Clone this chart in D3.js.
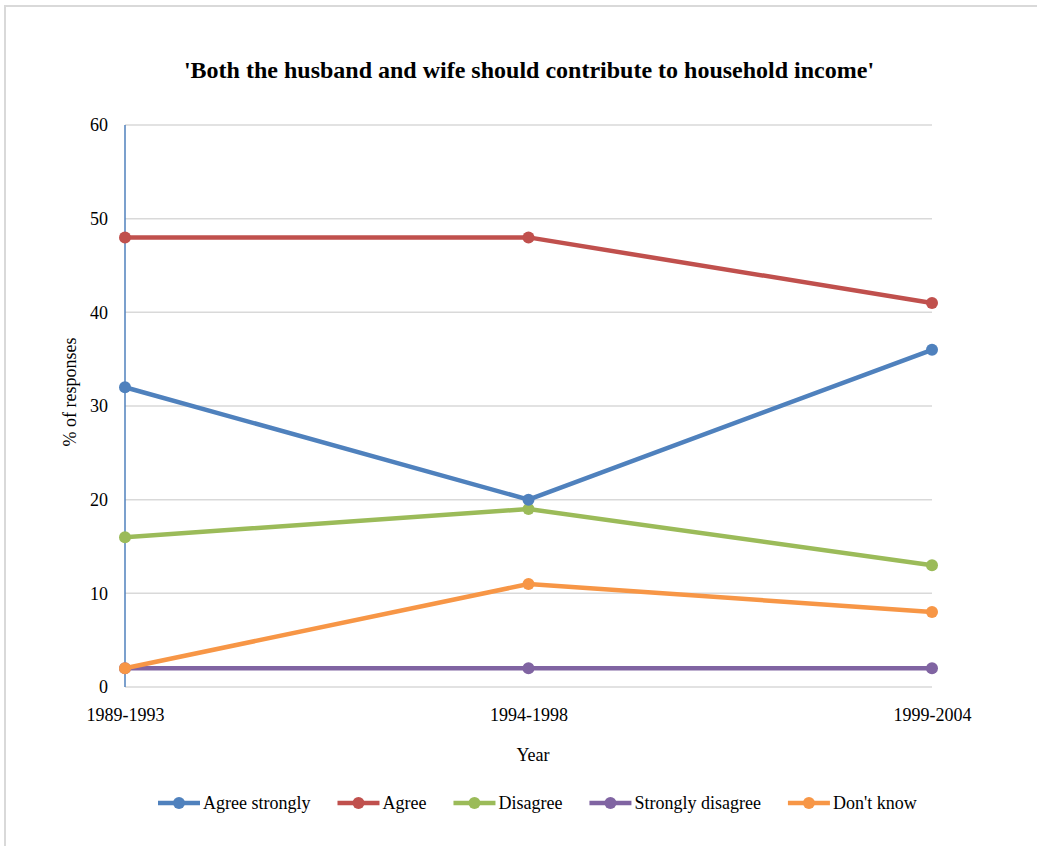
<!DOCTYPE html>
<html>
<head>
<meta charset="utf-8">
<script src="https://cdn.jsdelivr.net/npm/d3@7"></script>
<style>
  body { margin: 0; background: #fff; }
  svg { display: block; }
  svg text { font-family: "Liberation Serif", "DejaVu Serif", serif; }
</style>
</head>
<body>
<div id="chart"></div>
<script>
var periods = ["1989-1993", "1994-1998", "1999-2004"];
var seriesNames = ["Agree strongly", "Agree", "Disagree", "Strongly disagree", "Don't know"];
var agreeStrongly = [32, 20, 36];
var agree = [48, 48, 41];
var disagree = [16, 19, 13];
var stronglyDisagree = [2, 2, 2];
var dontKnow = [2, 11, 8];
var yTicks = [0, 10, 20, 30, 40, 50, 60];
var colors = ["#4f81bd", "#c0504d", "#9bbb59", "#8064a2", "#f79646"];

var seriesValues = [agreeStrongly, agree, disagree, stronglyDisagree, dontKnow];

function drawChart() {
    var width = 1037, height = 846;
    var left = 125, right = 932, top = 125, bottom = 687;

    var svg = d3.select("#chart").append("svg").attr("width", width).attr("height", height);

    // frame
    svg.append("rect").attr("x", 5).attr("y", 6).attr("width", width).attr("height", height)
        .attr("fill", "#fff").attr("stroke", "#d9d9d9").attr("stroke-width", 2);

    var x = d3.scalePoint().domain(periods).range([left, right]);
    var y = d3.scaleLinear().domain([0, 60]).range([bottom, top]);

    // gridlines
    svg.append("g").selectAll("line").data(yTicks).enter().append("line")
        .attr("x1", left).attr("x2", right)
        .attr("y1", function(d) { return y(d); }).attr("y2", function(d) { return y(d); })
        .attr("stroke", "#d9d9d9").attr("stroke-width", 1.5);

    // left axis line
    svg.append("line").attr("x1", left).attr("x2", left).attr("y1", top).attr("y2", bottom)
        .attr("stroke", "#4f81bd").attr("stroke-width", 1.5);

    // y tick labels
    var yAxis = svg.append("g").attr("transform", "translate(" + left + ",0)")
        .call(d3.axisLeft(y).tickValues(yTicks).tickSize(0).tickPadding(17));
    yAxis.select(".domain").remove();
    yAxis.selectAll("text").attr("font-size", 18).attr("font-family", "Liberation Serif").attr("fill", "#000");

    // x tick labels
    var xAxis = svg.append("g").attr("transform", "translate(0," + bottom + ")")
        .call(d3.axisBottom(x).tickSize(0).tickPadding(21));
    xAxis.select(".domain").remove();
    xAxis.selectAll("text").attr("font-size", 18).attr("font-family", "Liberation Serif").attr("fill", "#000");

    // title
    svg.append("text").attr("x", 529).attr("y", 78).attr("text-anchor", "middle")
        .attr("font-size", 24).attr("font-weight", "bold")
        .text("'Both the husband and wife should contribute to household income'");

    // axis titles
    svg.append("text").attr("x", 533).attr("y", 761).attr("text-anchor", "middle")
        .attr("font-size", 18).text("Year");
    svg.append("text").attr("transform", "translate(76,392) rotate(-90)").attr("text-anchor", "middle")
        .attr("font-size", 18).text("% of responses");

    var line = d3.line()
        .x(function(d, i) { return x(periods[i]); })
        .y(function(d) { return y(d); });

    // purple first so orange sits on top at the first point
    var order = [3, 2, 1, 0, 4];
    order.forEach(function(k) {
        var g = svg.append("g");
        g.append("path").datum(seriesValues[k]).attr("d", line)
            .attr("fill", "none").attr("stroke", colors[k]).attr("stroke-width", 4.5)
            .attr("stroke-linejoin", "round");
        g.selectAll("circle").data(seriesValues[k]).enter().append("circle")
            .attr("cx", function(d, i) { return x(periods[i]); })
            .attr("cy", function(d) { return y(d); })
            .attr("r", 6).attr("fill", colors[k]);
    });

    // legend
    var legend = svg.append("g");
    var lx = 158, ly = 803;
    seriesNames.forEach(function(name, k) {
        var it = legend.append("g").attr("transform", "translate(" + lx + "," + ly + ")");
        it.append("line").attr("x1", 0).attr("x2", 42).attr("y1", 0).attr("y2", 0)
            .attr("stroke", colors[k]).attr("stroke-width", 4.5);
        it.append("circle").attr("cx", 21).attr("cy", 0).attr("r", 6).attr("fill", colors[k]);
        var t = it.append("text").attr("x", 45).attr("y", 6).attr("font-size", 18).text(name);
        lx += 45 + t.node().getComputedTextLength() + 27;
    });
}
drawChart();
</script>
</body>
</html>
